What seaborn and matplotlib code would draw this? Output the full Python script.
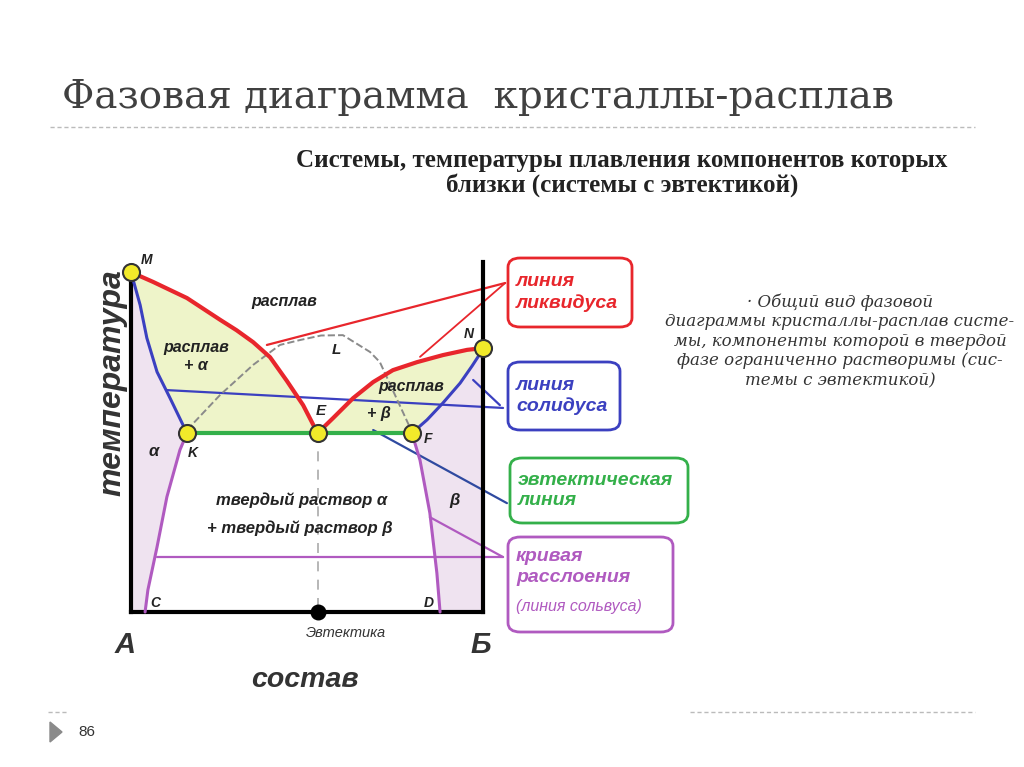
import numpy as np
import pandas as pd
import matplotlib
matplotlib.use("Agg")
import matplotlib.pyplot as plt
import seaborn as sns
from matplotlib.patches import FancyBboxPatch, Polygon
from matplotlib.lines import Line2D

# composition (0..100, A -> Б) and temperature (0..100, relative units)
liq_left_x = [0, 6.3, 15.9, 25.3, 30.0, 34.7, 39.5, 44.3, 48.9, 53.0]
liq_left_t = [97.1, 94.3, 89.7, 83.5, 80.5, 77.1, 72.8, 66.0, 59.1, 51.1]
liq_right_x = [53.0, 57.4, 63.1, 68.8, 74.4, 81.3, 88.6, 95.5, 100]
liq_right_t = [51.1, 55.4, 61.1, 65.7, 69.1, 71.4, 73.4, 74.9, 75.4]
sol_left_x = [0, 2.6, 4.5, 7.4, 11.1, 15.9]
sol_left_t = [97.1, 87.7, 78.3, 68.6, 61.1, 51.1]
sol_right_x = [79.8, 84.1, 88.6, 93.5, 96.9, 99.1, 100]
sol_right_t = [51.1, 54.9, 59.7, 65.4, 70.3, 73.7, 75.4]
solv_left_x = [15.9, 13.9, 10.2, 7.4, 4.8, 4.0]
solv_left_t = [51.1, 46.3, 32.9, 18.6, 6.3, 0]
solv_right_x = [79.8, 82.1, 84.9, 86.9, 87.8]
solv_right_t = [51.1, 43.4, 28.3, 11.1, 0]
arc_x = [15.9, 25.3, 34.7, 42.3, 48.0, 54.0, 60.2, 67.9, 70.7, 75.0, 79.3]
arc_t = [52.0, 62.0, 70.6, 76.3, 77.7, 79.0, 79.1, 74.3, 71.4, 62.0, 52.6]
eut_t = 51.1
eut_x = 53.0
pts_name = ["M", "N", "K", "E", "F"]
pts_x = [0, 100, 15.9, 53.0, 79.8]
pts_t = [97.1, 75.4, 51.1, 51.1, 51.1]

sns.set_theme(style="white")
plt.rcParams["font.family"] = ["Liberation Sans", "DejaVu Sans"]
serif = ["DejaVu Serif"]

W, H = 1024, 767
fig = plt.figure(figsize=(10.24, 7.67), dpi=100)
fig.patch.set_facecolor("white")


def fx(px):
    return px / W


def fy(py):
    return 1 - py / H


ax = fig.add_axes([fx(131), fy(612), fx(483) - fx(131), (612 - 262) / H])
ax.set_xlim(0, 100)
ax.set_ylim(0, 100)
ax.set_xticks([])
ax.set_yticks([])
ax.patch.set_alpha(0)
for s in ["left", "right", "bottom"]:
    ax.spines[s].set_color("black")
    ax.spines[s].set_linewidth(3)
ax.spines["top"].set_visible(False)
ax.spines["left"].set_bounds(0, pts_t[0])

green_fill = "#eef4c9"
purple_fill = "#efe3f0"
red = "#e8262c"
blue = "#3b40c0"
green = "#34b04a"
purple = "#b05ac0"

# filled phase regions
reg1 = list(zip(liq_left_x, liq_left_t)) + list(zip(sol_left_x[::-1], sol_left_t[::-1]))
reg2 = list(zip(liq_right_x, liq_right_t)) + list(zip(sol_right_x[::-1], sol_right_t[::-1]))
reg3 = [(0, 0)] + list(zip(sol_left_x, sol_left_t)) + list(zip(solv_left_x, solv_left_t))
reg4 = list(zip(solv_right_x[::-1], solv_right_t[::-1])) + list(zip(sol_right_x, sol_right_t)) + [(100, 0)]
for reg, c in [(reg1, green_fill), (reg2, green_fill), (reg3, purple_fill), (reg4, purple_fill)]:
    ax.add_patch(Polygon(reg, closed=True, facecolor=c, edgecolor="none", zorder=0))


def curve(x, t, color, lw, ls="-", z=3):
    sns.lineplot(x=x, y=t, sort=False, estimator=None, color=color, lw=lw, ls=ls,
                 ax=ax, zorder=z, clip_on=False)


# leader lines to the boxes
def leader(x0, t0, x1, t1, color, lw=1.6):
    ax.plot([x0, x1], [t0, t1], color=color, lw=lw, clip_on=False, zorder=2)


leader(38.6, 76.3, 106.3, 94.0, red)
leader(82.1, 72.9, 106.3, 94.0, red, 1.3)
leader(10.2, 63.4, 105.7, 58.3, blue)
leader(97.2, 66.3, 104.8, 59.1, blue)
leader(68.8, 52.0, 106.8, 31.1, "#2f4aa0")
leader(7.4, 15.7, 105.7, 15.7, purple)
leader(84.9, 27.1, 105.7, 15.7, purple)

curve(arc_x, arc_t, "#8a8a8a", 1.4, "--", 2)
ax.plot([eut_x, eut_x], [eut_t, 0], color="#aaaaaa", lw=1.2, ls=(0, (6, 5)), zorder=2)
curve(solv_left_x, solv_left_t, purple, 2.2)
curve(solv_right_x, solv_right_t, purple, 2.2)
curve(sol_left_x, sol_left_t, blue, 2.2)
curve(sol_right_x, sol_right_t, blue, 2.2)
ax.plot([pts_x[2], pts_x[4]], [eut_t, eut_t], color=green, lw=3, zorder=3)
curve(liq_left_x, liq_left_t, red, 3)
curve(liq_right_x, liq_right_t, red, 3)

ax.scatter(pts_x, pts_t, s=150, c="#f2ea2a", edgecolors="#333333", linewidths=1.5,
           zorder=6, clip_on=False)
ax.scatter([eut_x], [0], s=110, c="black", zorder=6, clip_on=False)

lab = dict(fontstyle="italic", fontweight="bold", color="#222222", zorder=7)
ax.text(2.8, 100.5, "M", fontsize=10, ha="left", va="center", **lab)
ax.text(97.5, 79.5, "N", fontsize=10, ha="right", va="center", **lab)
ax.text(58.5, 75.0, "L", fontsize=11, ha="center", va="center", **lab)
ax.text(54.0, 57.5, "E", fontsize=11, ha="center", va="center", **lab)
ax.text(17.5, 45.5, "K", fontsize=10, ha="center", va="center", **lab)
ax.text(84.5, 49.5, "F", fontsize=10, ha="center", va="center", **lab)
ax.text(7.0, 2.5, "C", fontsize=10, ha="center", va="center", **lab)
ax.text(84.5, 2.5, "D", fontsize=10, ha="center", va="center", **lab)
ax.text(6.3, 46.0, "α", fontsize=12, ha="center", va="center", **lab)
ax.text(92.0, 32.0, "β", fontsize=12, ha="center", va="center", **lab)
ax.text(43.5, 88.8, "расплав", fontsize=11.5, ha="center", va="center", **lab)
ax.text(18.5, 73.0, "расплав\n+ α", fontsize=11.5, ha="center", va="center",
        linespacing=1.3, **lab)
ax.text(79.5, 64.5, "расплав", fontsize=11.5, ha="center", va="center", **lab)
ax.text(70.5, 56.8, "+ β", fontsize=11.5, ha="center", va="center", **lab)
ax.text(48.5, 32.0, "твердый раствор α", fontsize=12, ha="center", va="center", **lab)
ax.text(48.0, 24.0, "+ твердый раствор β", fontsize=12, ha="center", va="center", **lab)
ax.text(61.0, -6.0, "Эвтектика", fontsize=10.5, ha="center", va="center",
        fontstyle="italic", color="#333333", clip_on=False)

big = dict(fontstyle="italic", fontweight="bold", color="#333333")
fig.text(fx(125), fy(645), "А", fontsize=21, ha="center", va="center", **big)
fig.text(fx(481), fy(645), "Б", fontsize=21, ha="center", va="center", **big)
fig.text(fx(305), fy(680), "состав", fontsize=20.5, ha="center", va="center", **big)
fig.text(fx(112), fy(383), "температура", fontsize=23, ha="center", va="center",
         rotation=90, **big)

# annotation boxes
boxes = [
    (508, 258, 124, 69, red, "линия\nликвидуса"),
    (508, 362, 112, 68, blue, "линия\nсолидуса"),
    (510, 458, 178, 65, green, "эвтектическая\nлиния"),
    (508, 537, 165, 95, purple, "кривая\nрасслоения\n(линия сольвуса)"),
]
for bx, by, bw, bh, c, txt in boxes:
    fig.add_artist(FancyBboxPatch((fx(bx), fy(by + bh)), bw / W, bh / H,
                                  boxstyle="round,pad=0,rounding_size=0.012",
                                  transform=fig.transFigure, facecolor="white",
                                  edgecolor=c, lw=2))
for bx, by, bw, bh, c, txt in boxes[:3]:
    fig.text(fx(bx + 8), fy(by + bh / 2), txt, fontsize=14, ha="left", va="center",
             color=c, fontstyle="italic", fontweight="bold", linespacing=1.3)
bx, by, bw, bh, c, txt = boxes[3]
fig.text(fx(bx + 8), fy(by + 30), "кривая\nрасслоения", fontsize=14, ha="left",
         va="center", color=c, fontstyle="italic", fontweight="bold", linespacing=1.3)
fig.text(fx(bx + 8), fy(by + 70), "(линия сольвуса)", fontsize=11.5, ha="left",
         va="center", color=c, fontstyle="italic")

# slide texts
fig.text(fx(62), fy(97), "Фазовая диаграмма  кристаллы-расплав", fontsize=28,
         family=serif, color="#404040", ha="left", va="center")
fig.add_artist(Line2D([fx(50), fx(975)], [fy(127), fy(127)], color="#bbbbbb", lw=1,
                      ls=(0, (3, 2)), transform=fig.transFigure))
fig.text(fx(622), fy(173), "Системы, температуры плавления компонентов которых\n"
         "близки (системы с эвтектикой)", fontsize=18, fontweight="bold",
         family=["Liberation Serif"], color="#222222", ha="center",
         va="center", linespacing=1.05)
fig.text(fx(840), fy(341), "· Общий вид фазовой\nдиаграммы кристаллы-расплав систе-\n"
         "мы, компоненты которой в твердой\nфазе ограниченно растворимы (сис-\n"
         "темы с эвтектикой)", fontsize=12, fontstyle="italic",
         family=serif, color="#333333", ha="center",
         va="center", linespacing=1.2)

# footer
fig.add_artist(Line2D([fx(48), fx(68)], [fy(712), fy(712)], color="#bbbbbb", lw=1,
                      ls=(0, (3, 2)), transform=fig.transFigure))
fig.add_artist(Line2D([fx(690), fx(975)], [fy(712), fy(712)], color="#bbbbbb", lw=1,
                      ls=(0, (3, 2)), transform=fig.transFigure))
fig.add_artist(Polygon([(fx(50), fy(722)), (fx(50), fy(742)), (fx(62), fy(732))],
                       closed=True, transform=fig.transFigure, color="#8a8a8a"))
fig.text(fx(78), fy(732), "86", fontsize=11, color="#333333", ha="left", va="center")

fig.savefig("out.png", dpi=100)
